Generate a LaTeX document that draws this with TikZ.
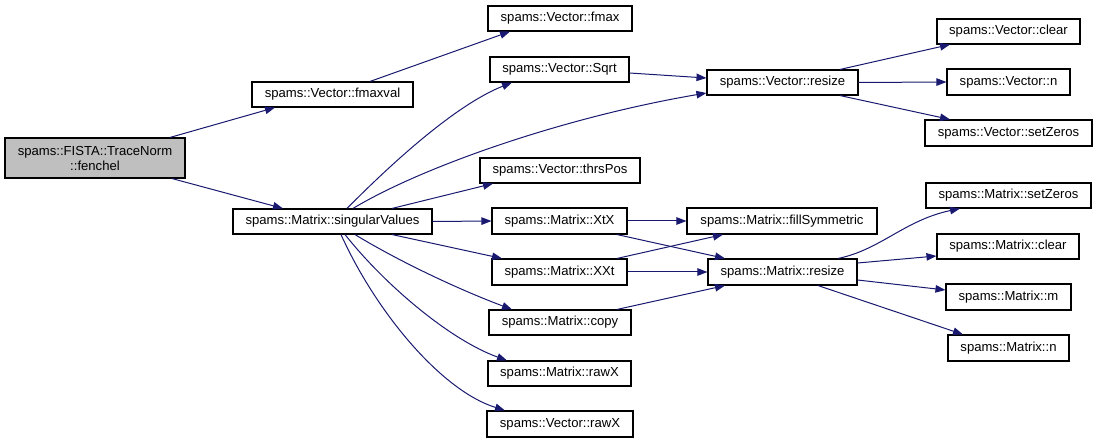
\documentclass[tikz,border=0pt]{standalone}
\usepackage{fontspec}
\setmainfont{Liberation Sans}
\usetikzlibrary{arrows.meta}
\definecolor{edgeblue}{HTML}{191970}
\definecolor{grayfill}{HTML}{BFBFBF}
\begin{document}
\begin{tikzpicture}[x=1bp,y=-1bp,
  fn/.style={draw=black,line width=1.1bp,fill=white,inner sep=0pt,align=center,
    font=\fontsize{13.1bp}{15bp}\selectfont},
  call/.style={draw=edgeblue,line width=1bp,-{Triangle[length=10bp,width=7.5bp]},fill=none},
]
\useasboundingbox (0,0) rectangle (1097,443);
\tikzset{call/.append style={}}
% nodes
\node[fn,fill=grayfill,minimum width=180bp,minimum height=40bp] (fen) at (95,158) {spams::FISTA::TraceNorm\\::fenchel};
\node[fn,minimum width=161bp,minimum height=25bp] (fmaxval) at (332.5,94.5) {spams::Vector::fmaxval};
\node[fn,minimum width=199bp,minimum height=25bp] (sv) at (332.5,221.5) {spams::Matrix::singularValues};
\node[fn,minimum width=144bp,minimum height=25bp] (fmax) at (560,18.5) {spams::Vector::fmax};
\node[fn,minimum width=139bp,minimum height=25bp] (sqrt) at (559.5,69.5) {spams::Vector::Sqrt};
\node[fn,minimum width=151bp,minimum height=25bp] (vres) at (782.5,82.5) {spams::Vector::resize};
\node[fn,minimum width=160bp,minimum height=25bp] (thrs) at (560,170.5) {spams::Vector::thrsPos};
\node[fn,minimum width=135bp,minimum height=26bp] (xtx) at (559.5,221) {spams::Matrix::XtX};
\node[fn,minimum width=190bp,minimum height=26bp] (fill) at (782,221) {spams::Matrix::fillSymmetric};
\node[fn,minimum width=135bp,minimum height=26bp] (xxt) at (559.5,272) {spams::Matrix::XXt};
\node[fn,minimum width=149bp,minimum height=26bp] (mres) at (782.5,272) {spams::Matrix::resize};
\node[fn,minimum width=142bp,minimum height=25bp] (copy) at (560,322.5) {spams::Matrix::copy};
\node[fn,minimum width=143bp,minimum height=25bp] (mraw) at (559.5,373.5) {spams::Matrix::rawX};
\node[fn,minimum width=146bp,minimum height=26bp] (vraw) at (560,424) {spams::Vector::rawX};
\node[fn,minimum width=143bp,minimum height=25bp] (vclear) at (1008.5,31.5) {spams::Vector::clear};
\node[fn,minimum width=123bp,minimum height=26bp] (vn) at (1008.5,82) {spams::Vector::n};
\node[fn,minimum width=167bp,minimum height=26bp] (vset) at (1008.5,133) {spams::Vector::setZeros};
\node[fn,minimum width=165bp,minimum height=25bp] (mset) at (1008.5,195.5) {spams::Matrix::setZeros};
\node[fn,minimum width=142bp,minimum height=25bp] (mclear) at (1008,246.5) {spams::Matrix::clear};
\node[fn,minimum width=125bp,minimum height=26bp] (mm) at (1008.5,297) {spams::Matrix::m};
\node[fn,minimum width=121bp,minimum height=26bp] (mn) at (1008.5,348) {spams::Matrix::n};
% edges
\draw[call] ([xshift=75bp]fen.north) -- ([xshift=-57.5bp]fmaxval.south);
\draw[call] ([xshift=77bp]fen.south) -- ([xshift=-49.5bp]sv.north);
\draw[call] ([xshift=37.5bp]fmaxval.north) -- ([xshift=-50bp]fmax.south);
\draw[call] ([xshift=14.5bp]sv.north) .. controls (390,165) and (455,105) .. ([xshift=-47.5bp]sqrt.south);
\draw[call] ([xshift=20.5bp]sv.north) .. controls (420,168) and (560,118) .. ([yshift=-10.5bp]vres.west);
\draw[call] ([yshift=-3.5bp]sqrt.east) -- ([yshift=4.5bp]vres.west);
\draw[call] ([xshift=57.5bp]vres.north) -- ([xshift=-58.5bp]vclear.south);
\draw[call] (vres.east) -- (vn.west);
\draw[call] ([xshift=57.5bp]vres.south) -- ([xshift=-58.5bp]vset.north);
\draw[call] ([xshift=59.5bp]sv.north) -- ([xshift=-67bp]thrs.south);
\draw[call] (sv.east) -- (xtx.west);
\draw[call] ([xshift=59.5bp]sv.south) -- ([xshift=-57.5bp]xxt.north);
\draw[call] ([xshift=22.5bp]sv.south) .. controls (400,262) and (460,290) .. ([xshift=-48bp]copy.north);
\draw[call] ([xshift=12.5bp]sv.south) .. controls (385,285) and (450,340) .. ([xshift=-52.5bp]mraw.north);
\draw[call] ([xshift=8.5bp]sv.south) .. controls (375,310) and (440,390) .. ([xshift=-55bp]vraw.north);
\draw[call] (xtx.east) -- (fill.west);
\draw[call] ([xshift=57.5bp]xtx.south) -- ([xshift=-57.5bp]mres.north);
\draw[call] ([xshift=57.5bp]xxt.north) -- ([xshift=-59bp]fill.south);
\draw[call] (xxt.east) -- (mres.west);
\draw[call] ([xshift=57bp]copy.north) -- ([xshift=-57.5bp]mres.south);
\draw[call] ([xshift=55.5bp]mres.north) .. controls (880,250) and (905,220) .. ([xshift=-48.5bp]mset.south);
\draw[call] ([yshift=9bp]mres.east) -- ([yshift=-9.5bp]mclear.west);
\draw[call] ([yshift=-8bp]mres.east) -- ([yshift=7bp]mm.west);
\draw[call] ([xshift=35.5bp]mres.south) -- ([xshift=-45.5bp]mn.north);
\end{tikzpicture}
\end{document}
